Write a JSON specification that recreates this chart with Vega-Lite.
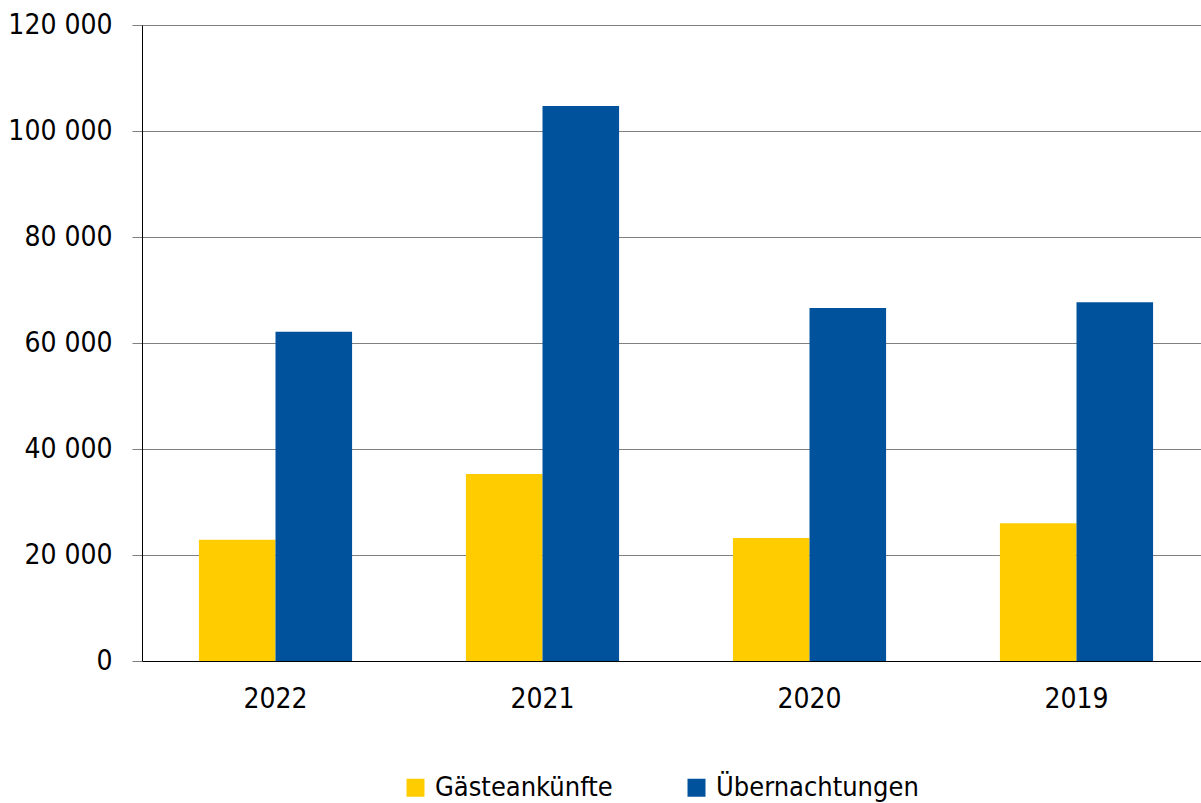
{
  "$schema": "https://vega.github.io/schema/vega-lite/v6.json",
  "autosize": "none",
  "width": 1068,
  "height": 636,
  "padding": {"left": 142, "top": 25, "right": 0, "bottom": 142},
  "background": "white",
  "config": {
    "view": {"stroke": null},
    "font": "DejaVu Sans Condensed"
  },
  "data": {
    "values": [
      {"Jahr": "2022", "Serie": "Gästeankünfte", "Wert": 22900},
      {"Jahr": "2022", "Serie": "Übernachtungen", "Wert": 62100},
      {"Jahr": "2021", "Serie": "Gästeankünfte", "Wert": 35300},
      {"Jahr": "2021", "Serie": "Übernachtungen", "Wert": 104700},
      {"Jahr": "2020", "Serie": "Gästeankünfte", "Wert": 23200},
      {"Jahr": "2020", "Serie": "Übernachtungen", "Wert": 66600},
      {"Jahr": "2019", "Serie": "Gästeankünfte", "Wert": 26000},
      {"Jahr": "2019", "Serie": "Übernachtungen", "Wert": 67700}
    ]
  },
  "mark": {"type": "bar"},
  "encoding": {
    "x": {
      "field": "Jahr",
      "type": "nominal",
      "sort": ["2022", "2021", "2020", "2019"],
      "scale": {"paddingInner": 0.4264, "paddingOuter": 0.2132},
      "axis": {
        "title": null,
        "labelAngle": 0,
        "labelFontSize": 28,
        "labelColor": "#000000",
        "labelPadding": 24,
        "ticks": false,
        "domainColor": "#000000",
        "domainWidth": 1,
        "grid": false
      }
    },
    "xOffset": {
      "field": "Serie",
      "type": "nominal",
      "sort": ["Gästeankünfte", "Übernachtungen"]
    },
    "y": {
      "field": "Wert",
      "type": "quantitative",
      "scale": {"domain": [0, 120000], "nice": false},
      "axis": {
        "title": null,
        "values": [0, 20000, 40000, 60000, 80000, 100000, 120000],
        "labelExpr": "replace(format(datum.value, ','), /,/g, ' ')",
        "labelFontSize": 28,
        "labelColor": "#000000",
        "labelPadding": 20,
        "tickSize": 10,
        "tickColor": "#808080",
        "domainColor": "#000000",
        "grid": true,
        "gridColor": "#808080",
        "gridWidth": 1
      }
    },
    "color": {
      "field": "Serie",
      "type": "nominal",
      "scale": {
        "domain": ["Gästeankünfte", "Übernachtungen"],
        "range": ["#FFCC00", "#00529C"]
      },
      "legend": {
        "title": null,
        "orient": "none",
        "direction": "horizontal",
        "legendX": 260,
        "legendY": 749,
        "symbolType": "square",
        "symbolSize": 324,
        "symbolStrokeWidth": 0,
        "labelFontSize": 27,
        "labelLimit": 0,
        "labelColor": "#000000",
        "labelOffset": 6,
        "columnPadding": 70
      }
    }
  }
}
